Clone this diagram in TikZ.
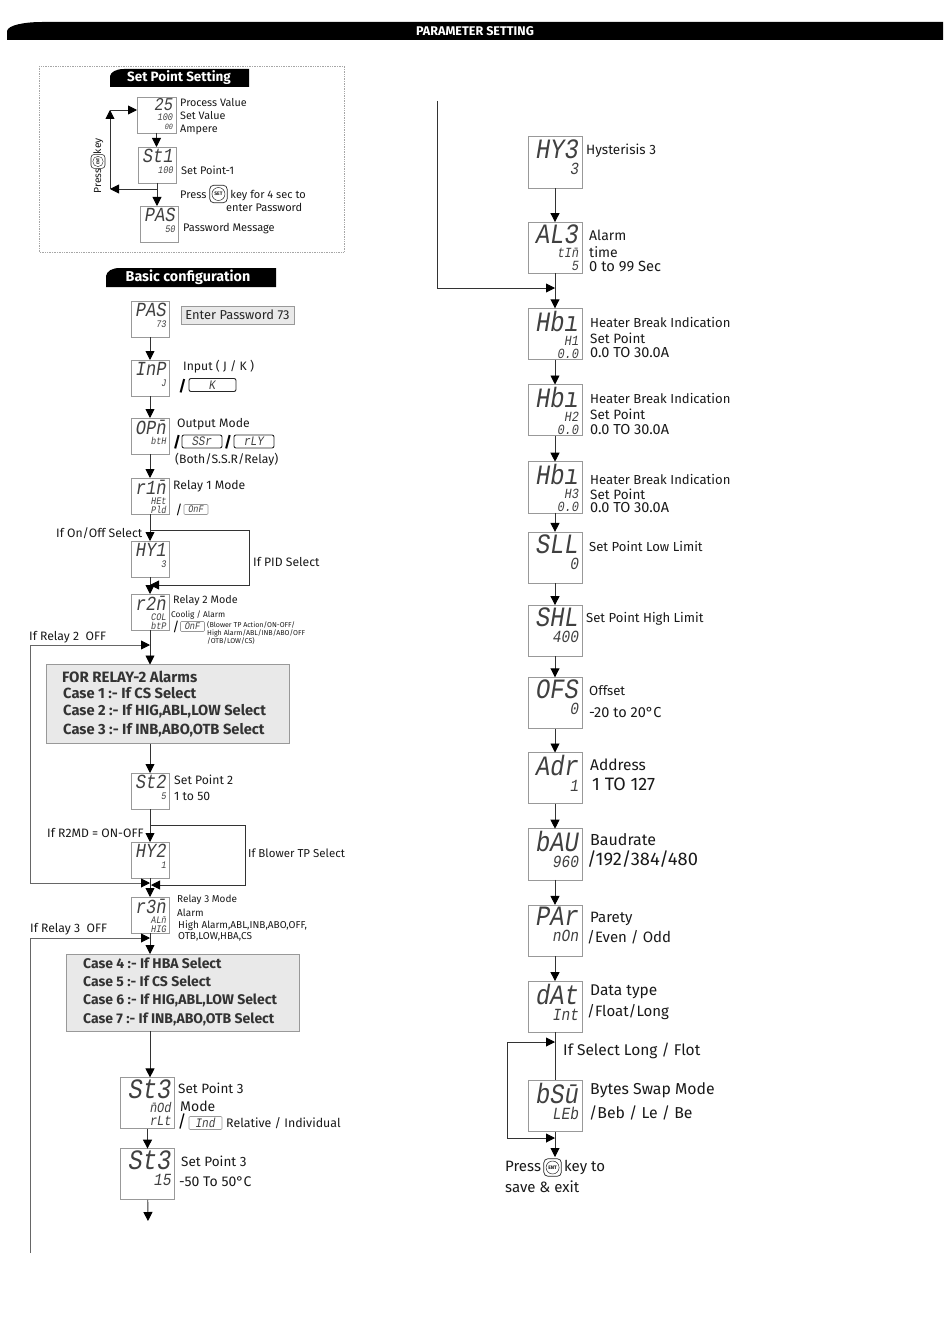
\documentclass[tikz,border=0pt]{standalone}
\usepackage{fontspec}
\setmainfont{Fira Sans}
\newfontfamily\lcdfont{Liberation Mono}[FakeStretch=0.85]
\usetikzlibrary{arrows.meta, positioning, calc}
\newcommand{\fs}[1]{\fontsize{#1}{#1}\selectfont}
\newcommand{\mbar}{\={n}}
% display boxes: big word on top, small rows under it
\newcommand{\lcdS}[2]{\parbox[c][31pt][t]{33pt}{\raggedleft\lcdfont\itshape\fs{20}#1\par\vspace{1.5pt}\fontsize{10}{9}\selectfont #2}}
\newcommand{\lcdL}[2]{\parbox[c][46pt][t]{48pt}{\raggedleft\lcdfont\itshape\fs{28}#1\par\fontsize{17}{16}\selectfont #2}}
\newcommand{\lcdLL}[3]{\parbox[c][46pt][t]{48pt}{\raggedleft\lcdfont\itshape\fs{28}#1\par\vspace{1pt}\fontsize{14}{13}\selectfont #2\par #3}}
\newcommand{\keyicon}[1]{\tikz[baseline=-4pt]{\node[keycirc] (k) {#1};
    \draw[keycap] ($(k.west |- k.south)+(-2pt,-2pt)$) rectangle ($(k.east |- k.north)+(2pt,2pt)$);}}
\tikzset{
    >={Triangle[length=9pt,width=9pt,color=black]},
    % Displays
    lcd/.style={rectangle, draw=gray!80, fill=white, line width=0.8pt, inner sep=0pt, outer sep=0pt,
                text=black!75, minimum width=38pt, minimum height=36pt},
    lcdbig/.style={lcd, minimum width=54pt, minimum height=51.2pt},
    % Grey panels
    panel/.style={rectangle, draw=gray!80, fill=gray!17, line width=0.8pt, inner sep=0pt, outer sep=0pt},
    note/.style={panel, minimum width=113pt, minimum height=18pt, font=\fs{12.9}, text=black!85},
    % Mini displays
    minikey/.style={rectangle, draw=black!85, rounded corners=2pt, line width=0.9pt, inner sep=0pt,
                    minimum height=13pt, text=black!75, font=\lcdfont\itshape\fs{13}},
    minioff/.style={rectangle, draw=gray!80, rounded corners=1pt, line width=0.6pt, inner sep=0pt,
                    minimum height=10pt, text=black!75, font=\lcdfont\itshape\fs{10}},
    slash/.style={inner sep=0pt, font=\bfseries\fs{15}},
    % Key icon
    keycirc/.style={circle, draw=black!85, line width=0.5pt, inner sep=0pt, minimum size=13pt, font=\bfseries\fs{5}},
    keycap/.style={draw=black!85, line width=0.7pt, rounded corners=4pt},
    % Headings
    tabfill/.style={fill=black},
    tabtxt/.style={inner sep=0pt, text=white, font=\bfseries\fs{#1}},
    % Flow & Labels
    flow/.style={->, line width=0.9pt, black!80},
    run/.style={line width=0.9pt, black!80},
    longrun/.style={line width=0.9pt, black!60},
    lbl/.style={anchor=west, inner sep=0pt, yshift=-0.5pt, text=black!90, font=\fs{#1}},
    lbl/.default=12.2,
    casetxt/.style={anchor=west, inner sep=0pt, text=black!80, font=\bfseries\fs{#1}},
    casetxt/.default=14.7
}

\begin{document}
\begin{tikzpicture}[x=1pt, y=-1pt]
\useasboundingbox (0,0) rectangle (950,1343);

% page heading
\fill[tabfill] (7,40) -- (7,31) .. controls (8,25) and (25,22) .. (42,22) -- (943,22) -- (943,40) -- cycle;
\node[tabtxt=12.6] (pageTitle) at (475,31) {PARAMETER SETTING};

% set point setting
\draw[gray!70, densely dotted, line width=0.7pt] (39,66) rectangle (344,252);
\fill[tabfill] (110,87) -- (110,76) .. controls (111,72) and (116,69) .. (124,69) -- (249,69) -- (249,87) -- cycle;
\node[tabtxt=13.5] (spTitle) at (179,78) {Set Point Setting};

\node[lcd, minimum width=39pt] (run1) at (156.5,115) {\parbox[c][34pt][t]{33pt}{\raggedleft\lcdfont\itshape\fs{18}25\par\fontsize{10}{10}\selectfont 100\par\fontsize{8}{9}\selectfont 00}};
\node[lcd] (st1) at (157,165) {\lcdS{St1}{100}};
\node[lcd] (pas50) at (159,224) {\lcdS{PAS}{50}};

\coordinate (spA) at (157,189);
\coordinate (spB) at (110,189);
\coordinate (spC) at (110,110);
\draw[flow] (run1) -- (run1.south |- st1.north);
\draw[flow] (st1.south) -- (st1.south |- pas50.north);
\draw[flow] (spA) -- (spB);
\draw[flow] (spB) -- (spC);
\draw[flow] (spC) -- (spC -| run1.west);

\node[lbl=10.3, rotate=90] (pressEnt) at (98,193) {Press\scalebox{.8}{\keyicon{ENT}}key};
\node[lbl=10.8] (pvTxt) at (180,102) {Process Value};
\node[lbl=10.8] (svTxt) at (180,115.5) {Set Value};
\node[lbl=10.8] (ampTxt) at (180,129) {Ampere};
\node[lbl=11] (st1Txt) at (181,170) {Set Point-1};
\node[lbl=11] (setTxt) at (180,193.5) {Press \keyicon{SET} key for 4 sec to};
\node[lbl=11] (setTxtB) at (226,207) {enter Password};
\node[lbl=11] (pasTxt) at (183,228.5) {Password Message};

% basic configuration
\fill[tabfill] (106,287) -- (106,276) .. controls (107,271) and (112,268) .. (120,268) -- (276,268) -- (276,287) -- cycle;
\node[tabtxt=14.3] (bcTitle) at (188,277) {Basic configuration};

\node[lcd] (pas73) at (150,319) {\lcdS{PAS}{73}};
\node[lcd, below=23pt of pas73] (inp) {\lcdS{InP}{J}};
\node[lcd, below=22pt of inp] (opm) {\lcdS{OP\mbar}{btH}};
\node[lcd, below=24pt of opm] (r1m) {\lcdS{r1\mbar}{HEt\\Pld}};
\node[lcd, below=27pt of r1m] (hy1) {\lcdS{HY1}{3}};
\node[lcd, below=17pt of hy1] (r2m) {\lcdS{r2\mbar}{COL\\btP}};
\node[panel, minimum width=243pt, minimum height=79pt] (relay2) at (167.5,704) {};
\node[lcd] (st2) at (150,791) {\lcdS{St2}{5}};
\node[lcd, below=33pt of st2] (hy2) {\lcdS{HY2}{1}};
\node[lcd, below=19pt of hy2] (r3m) {\lcdS{r3\mbar}{AL\mbar\\HIG}};
\node[panel, minimum width=233pt, minimum height=77pt] (relay3) at (182.5,992.5) {};
\node[lcdbig] (st3) at (147.5,1103) {\lcdLL{St3}{\mbar Od}{rLt}};
\node[lcdbig, below=20pt of st3] (st3b) {\lcdL{St3}{15}};

\coordinate (pidA) at (150,530);
\coordinate (pidB) at (249,585);
\coordinate (pidC) at (150,585);
\coordinate (off2A) at (30,883);
\coordinate (off2B) at (30,645);
\coordinate (off2C) at (150,645);
\coordinate (off2D) at (150,883);
\coordinate (tpA) at (150,825);
\coordinate (tpB) at (245,885);
\coordinate (tpC) at (151,885);
\coordinate (off3A) at (30,1253);
\coordinate (off3B) at (30,938);
\coordinate (off3C) at (150,938);
\coordinate (off3D) at (437,101);
\coordinate (off3E) at (437,288);
\coordinate (off3F) at (555,288);
\coordinate (st3Out) at (148,1221);

\draw[flow] (pas73) -- (inp);
\draw[flow] (inp) -- (opm);
\draw[flow] (opm) -- (r1m);
\draw[flow] (r1m) -- (hy1);
\draw[flow] (hy1) -- (r2m);
\draw[flow] (r2m) -- (r2m.south |- relay2.north);
\draw[flow] (r2m.south |- relay2.south) -- (st2);
\draw[flow] (st2) -- (hy2);
\draw[flow] (hy2) -- (r3m);
\draw[flow] (r3m) -- (r3m.south |- relay3.north);
\draw[flow] (r3m.south |- relay3.south) -- (r3m.south |- st3.north);
\draw[flow] (st3) -- (st3b);
\draw[flow] (st3b) -- (st3Out);
\draw[run, ->] (pidA) -| (pidB) -- (pidC);
\draw[longrun, ->] (off2A) -- (off2D);
\draw[longrun, ->] (off2A) -- (off2B) -- (off2C);
\draw[run, ->] (tpA) -| (tpB) -- (tpC);
\draw[longrun] (off3A) -- (off3B);
\draw[longrun, ->] (off3B) -- (off3C);
\draw[run, ->] (off3D) -- (off3E) -- (off3F);

\node[note] (pwNote) at (237.5,315) {Enter Password 73};
\node[lbl] (inpTxt) at (183,366.5) {Input ( J / K )};
\node[slash] (inpSl) at (182.5,386) {/};
\node[minikey, minimum width=47pt] (inpK) at (212.5,385) {K};
\node[lbl] (opmTxt) at (177,424) {Output Mode};
\node[slash] (opmSl) at (177,442) {/};
\node[minikey, minimum width=40pt] (opmS) at (202,441.5) {SSr};
\node[slash] (opmSm) at (228,442) {/};
\node[minikey, minimum width=40pt] (opmR) at (254,441.5) {rLY};
\node[lbl] (opmTxtB) at (175,459.5) {(Both/S.S.R/Relay)};
\node[lbl] (r1mTxt) at (173,485.5) {Relay 1 Mode};
\node[slash, font=\fs{13}] (r1mSl) at (179,510) {/};
\node[minioff, minimum width=24pt] (r1mO) at (196,509.5) {OnF};
\node[lbl] (onTxt) at (56,532.5) {If On/Off Select};
\node[lbl] (pidTxt) at (253,561.5) {If PID Select};
\node[lbl=10.8] (r2mTxt) at (173,600) {Relay 2 Mode};
\node[lbl=8.3] (r2mTxtB) at (171,614.5) {Coolig / Alarm};
\node[slash, font=\fs{13}] (r2mSl) at (176,627) {/};
\node[minioff, minimum width=24pt] (r2mO) at (192.5,626.5) {OnF};
\node[lbl=7.1] (blowA) at (207,625) {(Blower TP Action/ON-OFF/};
\node[lbl=7.1] (blowB) at (207,633) {High Alarm/ABL/INB/ABO/OFF};
\node[lbl=7.1] (blowC) at (207,641) {/OTB/LOW/CS)};
\node[lbl] (off2Txt) at (29,637) {If Relay 2\ \ OFF};

\node[casetxt=15] (forTxt) at (62,677) {FOR RELAY-2 Alarms};
\node[casetxt] (case1) at (63,693) {Case 1 :- If CS Select};
\node[casetxt] (case2) at (63,711) {Case 2 :- If HIG,ABL,LOW Select};
\node[casetxt] (case3) at (63,730) {Case 3 :- If INB,ABO,OTB Select};

\node[lbl] (st2Txt) at (174,779.5) {Set Point 2};
\node[lbl] (st2TxtB) at (174,795.5) {1 to 50};
\node[lbl] (r2mdTxt) at (47,832.5) {If R2MD = ON-OFF};
\node[lbl=11.5] (tpTxt) at (248,853) {If Blower TP Select};
\node[lbl=10] (r3mTxt) at (177,899) {Relay 3 Mode};
\node[lbl=10] (r3mTxtB) at (177,912) {Alarm};
\node[lbl=10] (r3mTxtC) at (178,925) {High Alarm,ABL,INB,ABO,OFF,};
\node[lbl=10] (r3mTxtD) at (178,936) {OTB,LOW,HBA,CS};
\node[lbl] (off3Txt) at (30,929) {If Relay 3\ \ OFF};

\node[casetxt=14] (case4) at (83,963) {Case 4 :- If HBA Select};
\node[casetxt=14] (case5) at (83,981) {Case 5 :- If CS Select};
\node[casetxt=14] (case6) at (83,1000) {Case 6 :- If HIG,ABL,LOW Select};
\node[casetxt=14] (case7) at (83,1019) {Case 7 :- If INB,ABO,OTB Select};

\node[lbl=13.5] (st3Txt) at (178,1088) {Set Point 3};
\node[lbl=14] (modeTxt) at (180,1106) {Mode};
\node[slash, font=\fs{17}] (st3Sl) at (182,1122) {/};
\node[minioff, minimum width=33pt, minimum height=13pt, font=\lcdfont\itshape\fs{13}] (st3I) at (205.5,1123) {Ind};
\node[lbl=12.4] (relTxt) at (226,1122.5) {Relative / Individual};
\node[lbl=13.5] (st3bTxt) at (181,1160.5) {Set Point 3};
\node[lbl=14] (st3bTxtB) at (179,1181.5) {-50 To 50°C};

% second column
\node[lcdbig] (hy3) at (555,162.5) {\lcdL{HY3}{3}};
\node[lcdbig, below=34pt of hy3] (al3) {\lcdLL{AL3}{tI\mbar}{5}};
\node[lcdbig, below=35pt of al3] (hb1) {\lcdLL{Hbı}{H1}{0.0}};
\node[lcdbig, below=25pt of hb1] (hb2) {\lcdLL{Hbı}{H2}{0.0}};
\node[lcdbig, below=26pt of hb2] (hb3) {\lcdLL{Hbı}{H3}{0.0}};
\node[lcdbig, below=19pt of hb3] (sll) {\lcdL{SLL}{0}};
\node[lcdbig, below=22pt of sll] (shl) {\lcdL{SHL}{400}};
\node[lcdbig, below=21pt of shl] (ofs) {\lcdL{OFS}{0}};
\node[lcdbig, below=24pt of ofs] (adr) {\lcdL{Adr}{1}};
\node[lcdbig, below=25pt of adr] (bau) {\lcdL{bAU}{960}};
\node[lcdbig, below=25pt of bau] (par) {\lcdL{PAr}{nOn}};
\node[lcdbig, below=25pt of par] (dat) {\lcdL{dAt}{Int}};
\node[lcdbig, below=48pt of dat] (bsw) {\lcdL{bS\={u}}{LEb}};

\coordinate (swapA) at (555,1042);
\coordinate (swapB) at (507,1042);
\coordinate (swapC) at (507,1138);
\coordinate (swapD) at (555,1138);
\coordinate (saveOut) at (555,1157);

\draw[flow] (hy3) -- (al3);
\draw[flow] (al3) -- (hb1);
\draw[flow] (hb1) -- (hb2);
\draw[flow] (hb2) -- (hb3);
\draw[flow] (hb3) -- (sll);
\draw[flow] (sll) -- (shl);
\draw[flow] (shl) -- (ofs);
\draw[flow] (ofs) -- (adr);
\draw[flow] (adr) -- (bau);
\draw[flow] (bau) -- (par);
\draw[flow] (par) -- (dat);
\draw[run] (dat) -- (bsw);
\draw[flow] (bsw) -- (saveOut);
\draw[run, <->] (swapA) -- (swapB) -- (swapC) -- (swapD);

\node[lbl=13.5] (hy3Txt) at (586,150) {Hysterisis 3};
\node[lbl=14] (al3Txt) at (589,235) {Alarm};
\node[lbl=14] (al3TxtB) at (589,252) {time};
\node[lbl=14.7] (al3TxtC) at (589,266) {0 to 99 Sec};
\node[lbl=13.1] (hb1Txt) at (590,321.5) {Heater Break Indication};
\node[lbl=13.5] (hb1TxtB) at (590,337.5) {Set Point};
\node[lbl=14.5] (hb1TxtC) at (590,352.5) {0.0 TO 30.0A};
\node[lbl=13.1] (hb2Txt) at (590,397.5) {Heater Break Indication};
\node[lbl=13.5] (hb2TxtB) at (590,413.5) {Set Point};
\node[lbl=14.5] (hb2TxtC) at (590,429.5) {0.0 TO 30.0A};
\node[lbl=13.1] (hb3Txt) at (590,478.5) {Heater Break Indication};
\node[lbl=13.5] (hb3TxtB) at (590,494) {Set Point};
\node[lbl=14.5] (hb3TxtC) at (590,507.5) {0.0 TO 30.0A};
\node[lbl=13.1] (sllTxt) at (589,546) {Set Point Low Limit};
\node[lbl=13.1] (shlTxt) at (586,618.5) {Set Point High Limit};
\node[lbl=13.2] (ofsTxt) at (589,690) {Offset};
\node[lbl=14.5] (ofsTxtB) at (589,712) {-20 to 20°C};
\node[lbl=15.5] (adrTxt) at (590,764) {Address};
\node[lbl=18] (adrTxtB) at (592,784) {1 TO 127};
\node[lbl=16] (bauTxt) at (590,839) {Baudrate};
\node[lbl=18.3] (bauTxtB) at (587,859) {/192/384/480};
\node[lbl=15] (parTxt) at (590,918) {Parety};
\node[lbl=15] (parTxtB) at (587,937) {/Even / Odd};
\node[lbl=15.5] (datTxt) at (590,991) {Data type};
\node[lbl=15] (datTxtB) at (587,1012) {/Float/Long};
\node[lbl=15.5] (ifTxt) at (563,1050) {If Select Long / Flot};
\node[lbl=15.8] (bswTxt) at (590,1089.5) {Bytes Swap Mode};
\node[lbl=15.8] (bswTxtB) at (589,1112) {/Beb / Le / Be};
\node[lbl=15] (pressTxt) at (505,1167) {Press\,\keyicon{ENT}\,key to};
\node[lbl=15] (saveTxt) at (505,1186) {save \& exit};

\end{tikzpicture}
\end{document}
